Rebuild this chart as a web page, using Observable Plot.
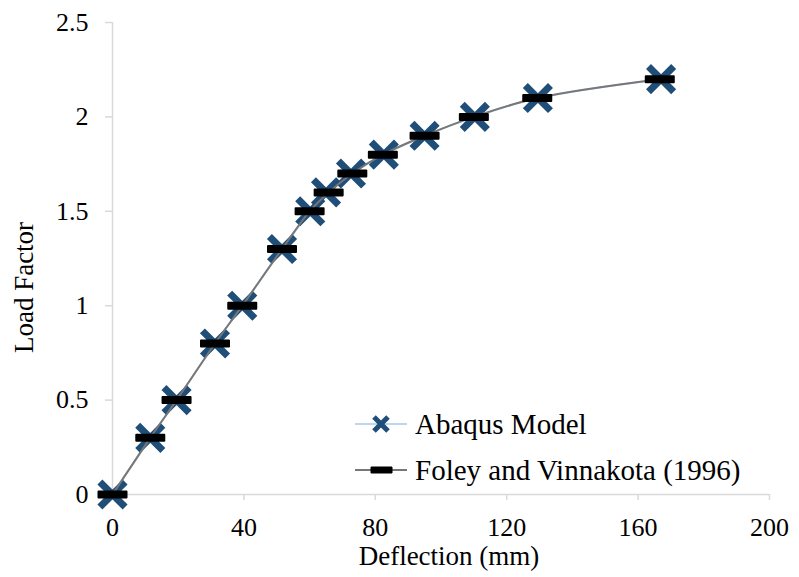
<!DOCTYPE html>
<html>
<head>
<meta charset="utf-8">
<script src="https://cdn.jsdelivr.net/npm/d3@7"></script>
<script src="https://cdn.jsdelivr.net/npm/@observablehq/plot@0.6"></script>
<style>
  html, body { margin: 0; padding: 0; background: #fff; }
  #chart { position: relative; width: 799px; height: 577px; font-family: "Liberation Serif", "Times New Roman", Times, "DejaVu Serif", serif; }
  #chart svg text { font-family: "Liberation Serif", "Times New Roman", Times, "DejaVu Serif", serif; }
  #legend { position: absolute; left: 355px; top: 401px; font-size: 29px; color: #000; }
  #legend .row { display: flex; align-items: center; height: 46px; white-space: nowrap; }
  #legend svg { display: block; margin-right: 8px; }
</style>
</head>
<body>
<div id="chart"></div>
<script>
// Data
const seriesNames = ["Abaqus Model", "Foley and Vinnakota (1996)"];
const abaqusDeflection = [0, 11.5, 19.5, 31.2, 39.5, 51.6, 60.2, 65.0, 72.6, 82.6, 95.0, 110.3, 129.5, 167.0];
const abaqusLoad       = [0, 0.3, 0.5, 0.8, 1.0, 1.3, 1.5, 1.6, 1.7, 1.8, 1.9, 2.0, 2.1, 2.2];
const foleyDeflection  = [0, 11.5, 19.5, 31.2, 39.5, 51.6, 60.0, 65.8, 73.0, 82.3, 95.0, 110.0, 129.3, 166.6];
const foleyLoad        = [0, 0.3, 0.5, 0.8, 1.0, 1.3, 1.5, 1.6, 1.7, 1.8, 1.9, 2.0, 2.1, 2.2];
const xTicks = [0, 40, 80, 120, 160, 200];
const yTicks = [0, 0.5, 1, 1.5, 2, 2.5];

const abaqus = abaqusDeflection.map((d, i) => ({x: d, y: abaqusLoad[i]}));
const foley = foleyDeflection.map((d, i) => ({x: d, y: foleyLoad[i]}));

const blue = "#1f4e79";
const lightBlue = "#bdd7ee";
const gray = "#777777";
const axisGray = "#d9d9d9";
const serifStack = "'Liberation Serif', 'Times New Roman', Times, 'DejaVu Serif', serif";

const dashSymbol = {
  draw(context) {
    context.moveTo(-14, -3);
    context.lineTo(14, -3);
    context.lineTo(14, 3);
    context.lineTo(-14, 3);
    context.closePath();
  }
};

const chart = Plot.plot({
  width: 799,
  height: 577,
  marginLeft: 112,
  marginRight: 30,
  marginTop: 22,
  marginBottom: 83,
  style: {fontFamily: serifStack, fontSize: "26px", color: "#000", background: "#fff"},
  x: {domain: [0, 200]},
  y: {domain: [0, 2.5]},
  marks: [
    Plot.ruleX([0], {stroke: axisGray, strokeWidth: 1.5}),
    Plot.ruleY([0], {stroke: axisGray, strokeWidth: 1.5}),
    Plot.axisX({ticks: xTicks, tickSize: 6, tickPadding: 17, stroke: axisGray, strokeWidth: 1.5, label: null, tickFormat: d => String(d), fill: "#000"}),
    Plot.axisY({ticks: yTicks, tickSize: 7, tickPadding: 17, stroke: axisGray, strokeWidth: 1.5, label: null, tickFormat: d => String(d), fill: "#000"}),
    Plot.line(abaqus, {x: "x", y: "y", stroke: lightBlue, strokeWidth: 2, curve: "catmull-rom"}),
    Plot.dot(abaqus, {x: "x", y: "y", symbol: "times", r: 11.5, stroke: blue, strokeWidth: 7}),
    Plot.line(foley, {x: "x", y: "y", stroke: gray, strokeWidth: 2, curve: "catmull-rom"}),
    Plot.dot(foley, {x: "x", y: "y", symbol: dashSymbol, fill: "#000", stroke: "#000", strokeWidth: 2, strokeLinejoin: "round"}),
    Plot.text(["Deflection (mm)"], {frameAnchor: "bottom", textAnchor: "middle", lineAnchor: "middle", dx: 8, dy: 62, fontSize: 27, fill: "#000"}),
    Plot.text(["Load Factor"], {frameAnchor: "left", textAnchor: "middle", lineAnchor: "middle", rotate: -90, dx: -88, dy: 29, fontSize: 27, fill: "#000"})
  ]
});

const container = document.getElementById("chart");
container.appendChild(chart);

// Legend (inside plot area, bottom right)
const legend = document.createElement("div");
legend.id = "legend";
seriesNames.forEach((name, i) => {
  const row = document.createElement("div");
  row.className = "row";
  const svg = d3.create("svg").attr("width", 52).attr("height", 30);
  svg.append("line").attr("x1", 0).attr("x2", 52).attr("y1", 15).attr("y2", 15)
    .attr("stroke", i === 0 ? lightBlue : gray).attr("stroke-width", 2);
  if (i === 0) {
    svg.append("path").attr("d", "M19,8L33,22M19,22L33,8").attr("stroke", blue).attr("stroke-width", 5);
  } else {
    svg.append("rect").attr("x", 16).attr("y", 12).attr("width", 21).attr("height", 6)
      .attr("fill", "#000").attr("stroke", "#000").attr("stroke-width", 1).attr("stroke-linejoin", "round");
  }
  row.appendChild(svg.node());
  const span = document.createElement("span");
  span.textContent = name;
  row.appendChild(span);
  legend.appendChild(row);
});
container.appendChild(legend);
</script>
</body>
</html>
